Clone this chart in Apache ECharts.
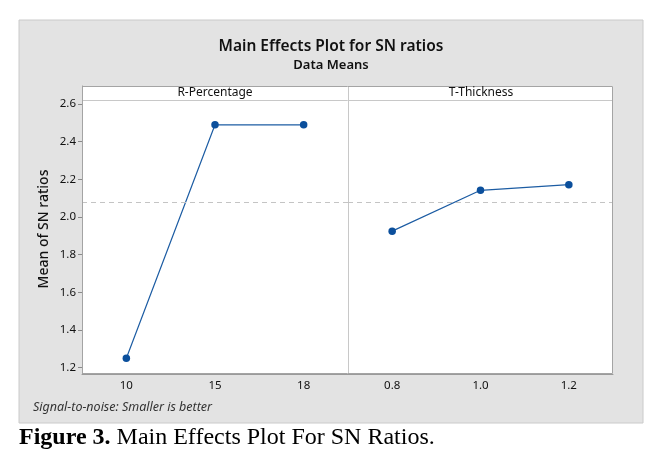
<!DOCTYPE html>
<html>
<head>
<meta charset="utf-8">
<script src="https://cdn.jsdelivr.net/npm/echarts@6/dist/echarts.min.js"></script>
<style>
  html, body { margin: 0; padding: 0; background: #fff; }
  #chart { width: 660px; height: 465px; }
</style>
</head>
<body>
<div id="chart"></div>
<script>
// 数据
const rLevels = ['10', '15', '18'];
const rMeans = [1.25, 2.49, 2.49];
const tLevels = ['0.8', '1.0', '1.2'];
const tMeans = [1.925, 2.142, 2.172];
const yTicks = [1.2, 1.4, 1.6, 1.8, 2.0, 2.2, 2.4, 2.6];

// 总均值 (参考虚线)
const allMeans = rMeans.concat(tMeans);
const grandMean = allMeans.reduce((a, b) => a + b, 0) / allMeans.length;

const FONT = '"Noto Sans", "Open Sans", sans-serif';
const LINE_COLOR = '#1c5ca3';
const DOT_COLOR = '#0b4f9c';

const chart = echarts.init(document.getElementById('chart'), null, { renderer: 'canvas' });

function yAxisFor(gridIndex, showLabels) {
    return {
        type: 'value',
        gridIndex: gridIndex,
        min: 1.166,
        max: 2.696,
        axisLine: { show: showLabels, lineStyle: { color: '#9a9a9a' } },
        axisTick: { show: showLabels, length: 4, customValues: yTicks, lineStyle: { color: '#8a8a8a' } },
        axisLabel: {
            show: showLabels,
            customValues: yTicks,
            formatter: v => v.toFixed(1),
            fontFamily: FONT, fontSize: 11.5, color: '#111', margin: 6
        },
        splitLine: { show: false }
    };
}

function xAxisFor(gridIndex, levels) {
    return {
        type: 'category',
        gridIndex: gridIndex,
        data: levels,
        boundaryGap: true,
        axisLine: { lineStyle: { color: '#9a9a9a' } },
        axisTick: { alignWithLabel: true, length: 4, lineStyle: { color: '#8a8a8a' } },
        axisLabel: { fontFamily: FONT, fontSize: 11.5, color: '#111', margin: 6 }
    };
}

function lineSeries(idx, values) {
    return {
        type: 'line',
        xAxisIndex: idx,
        yAxisIndex: idx,
        data: values,
        symbol: 'circle',
        symbolSize: 7.5,
        itemStyle: { color: DOT_COLOR },
        lineStyle: { color: LINE_COLOR, width: 1.2 },
        silent: true,
        markLine: {
            silent: true,
            symbol: 'none',
            label: { show: false },
            lineStyle: { color: '#c4c4c4', type: [5, 4], width: 1 },
            data: [{ yAxis: grandMean }]
        }
    };
}

const option = {
    animation: false,
    backgroundColor: '#fff',
    grid: [
        { left: 82, top: 86, width: 266, height: 288, show: true, backgroundColor: '#fff', borderWidth: 0 },
        { left: 348, top: 86, width: 265, height: 288, show: true, backgroundColor: '#fff', borderWidth: 0 }
    ],
    xAxis: [xAxisFor(0, rLevels), xAxisFor(1, tLevels)],
    yAxis: [yAxisFor(0, true), yAxisFor(1, false)],
    series: [lineSeries(0, rMeans), lineSeries(1, tMeans)],
    graphic: [
        // 灰色背景面板
        { type: 'rect', z: -5, shape: { x: 19, y: 20, width: 624, height: 403 },
          style: { fill: '#e3e3e3', stroke: '#cacaca', lineWidth: 1 } },
        // 分面标题条
        { type: 'line', z: 5, shape: { x1: 82, y1: 100.5, x2: 613, y2: 100.5 },
          style: { stroke: '#c8c8c8', lineWidth: 1 } },
        { type: 'line', z: 5, shape: { x1: 348.5, y1: 86, x2: 348.5, y2: 374 },
          style: { stroke: '#c8c8c8', lineWidth: 1 } },
        { type: 'rect', z: 6, shape: { x: 82.5, y: 86.5, width: 530, height: 287 },
          style: { fill: 'none', stroke: '#a4a4a4', lineWidth: 1 } },
        { type: 'text', z: 6, x: 215, y: 93,
          style: { text: 'R-Percentage', font: '12px ' + FONT, fill: '#111', align: 'center', verticalAlign: 'middle' } },
        { type: 'text', z: 6, x: 481, y: 93,
          style: { text: 'T-Thickness', font: '12px ' + FONT, fill: '#111', align: 'center', verticalAlign: 'middle' } },
        // 标题
        { type: 'text', x: 331, y: 47,
          style: { text: 'Main Effects Plot for SN ratios', font: '600 15.5px ' + FONT, fill: '#111', align: 'center', verticalAlign: 'middle' } },
        { type: 'text', x: 331, y: 65,
          style: { text: 'Data Means', font: '600 13px ' + FONT, fill: '#111', align: 'center', verticalAlign: 'middle' } },
        // Y 轴名称
        { type: 'text', x: 44, y: 229, rotation: Math.PI / 2,
          style: { text: 'Mean of SN ratios', font: '500 14px ' + FONT, fill: '#111', align: 'center', verticalAlign: 'middle' } },
        // 脚注
        { type: 'text', x: 33, y: 407,
          style: { text: 'Signal-to-noise: Smaller is better', font: 'italic 12.5px ' + FONT, fill: '#333', align: 'left', verticalAlign: 'middle' } },
        // 图注
        { type: 'text', x: 19, y: 438,
          style: {
              text: '{b|Figure 3.} Main Effects Plot For SN Ratios.',
              font: '24px "Liberation Serif", "Times New Roman", serif',
              fill: '#000', align: 'left', verticalAlign: 'middle',
              rich: { b: { fontWeight: 'bold', fontSize: 24, fontFamily: '"Liberation Serif", serif' } }
          } }
    ]
};

chart.setOption(option);
</script>
</body>
</html>
